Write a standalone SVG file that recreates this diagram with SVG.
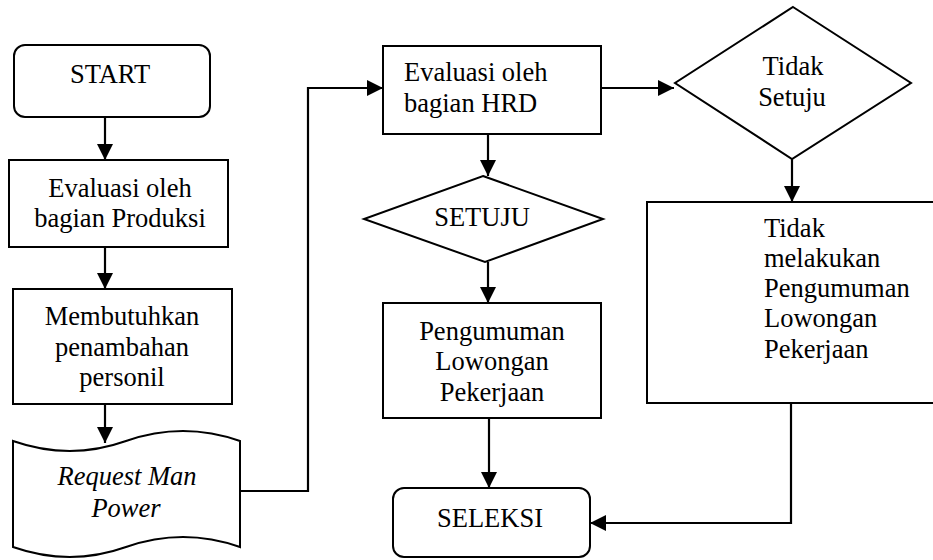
<svg xmlns="http://www.w3.org/2000/svg" width="933" height="560" viewBox="0 0 933 560">
<style>
.s{fill:#fff;stroke:#000;stroke-width:2}
.t{font-family:'Liberation Serif','Times New Roman',serif;font-size:26.5px;fill:#000}
.c{text-anchor:middle}
.i{font-style:italic}
.e{fill:none;stroke:#000;stroke-width:2.2}
</style>
<defs>
<marker id="a" markerUnits="userSpaceOnUse" markerWidth="16" markerHeight="16" viewBox="0 0 14 14" refX="14" refY="7" orient="auto">
<path d="M0,0 L14,7 L0,14 Z" fill="#000"/>
</marker>
</defs>
<rect width="933" height="560" fill="#fff"/>
<g id="connectors">
<line class="e" x1="105" y1="117" x2="105" y2="160" marker-end="url(#a)"/>
<line class="e" x1="105" y1="247" x2="105" y2="289" marker-end="url(#a)"/>
<line class="e" x1="105" y1="404" x2="105" y2="443" marker-end="url(#a)"/>
<polyline class="e" points="240,491 308,491 308,88 383,88" marker-end="url(#a)"/>
<line class="e" x1="601" y1="88" x2="674" y2="88" marker-end="url(#a)"/>
<line class="e" x1="488" y1="134" x2="488" y2="176" marker-end="url(#a)"/>
<line class="e" x1="488" y1="262" x2="488" y2="303" marker-end="url(#a)"/>
<line class="e" x1="489" y1="418" x2="489" y2="488" marker-end="url(#a)"/>
<line class="e" x1="792" y1="159" x2="792" y2="202" marker-end="url(#a)"/>
<polyline class="e" points="791,403 791,523 590,523" marker-end="url(#a)"/>
</g>
<g id="start">
<rect class="s" x="14" y="45" width="196" height="72" rx="11"/>
<text class="t c" x="110" y="83">START</text>
</g>
<g id="eval-produksi">
<rect class="s" x="9" y="160" width="219" height="87"/>
<text class="t c" x="120" y="197">Evaluasi oleh</text>
<text class="t c" x="120" y="227">bagian Produksi</text>
</g>
<g id="membutuhkan">
<rect class="s" x="13" y="289" width="219" height="115"/>
<text class="t c" x="122" y="325">Membutuhkan</text>
<text class="t c" x="122" y="356">penambahan</text>
<text class="t c" x="122" y="386">personil</text>
</g>
<g id="request">
<path class="s" d="M13,441 Q70,461 126,441 Q183,421 240,441 L240,547 Q183,527 126,547 Q70,567 13,547 Z"/>
<text class="t c i" x="127" y="485">Request Man</text>
<text class="t c i" x="126" y="517">Power</text>
</g>
<g id="eval-hrd">
<rect class="s" x="383" y="46" width="218" height="88"/>
<text class="t" x="404" y="81">Evaluasi oleh</text>
<text class="t" x="404" y="112">bagian HRD</text>
</g>
<g id="setuju">
<polygon class="s" points="483,176 603,219 485,262 364,219"/>
<text class="t c" x="482" y="226">SETUJU</text>
</g>
<g id="pengumuman">
<rect class="s" x="383" y="303" width="218" height="115"/>
<text class="t c" x="492" y="340">Pengumuman</text>
<text class="t c" x="492" y="370">Lowongan</text>
<text class="t c" x="492" y="401">Pekerjaan</text>
</g>
<g id="seleksi">
<rect class="s" x="393" y="488" width="197" height="69" rx="11"/>
<text class="t c" x="490" y="527">SELEKSI</text>
</g>
<g id="tidak-setuju">
<polygon class="s" points="793,7 911,83 792,159 675,83"/>
<text class="t c" x="793" y="75">Tidak</text>
<text class="t c" x="792" y="106">Setuju</text>
</g>
<g id="tidak-melakukan">
<rect class="s" x="647" y="202" width="290" height="201"/>
<text class="t" x="764" y="237">Tidak</text>
<text class="t" x="764" y="267">melakukan</text>
<text class="t" x="764" y="297">Pengumuman</text>
<text class="t" x="764" y="327">Lowongan</text>
<text class="t" x="764" y="358">Pekerjaan</text>
</g>
</svg>
